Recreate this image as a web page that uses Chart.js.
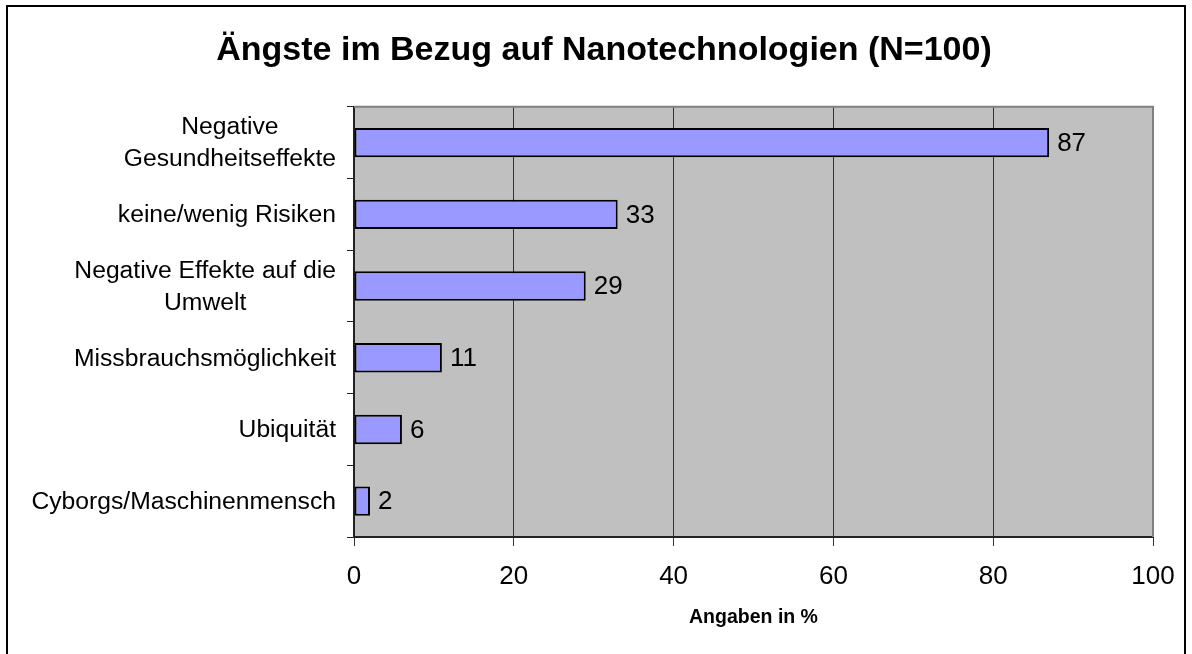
<!DOCTYPE html>
<html>
<head>
<meta charset="utf-8">
<script src="https://cdn.jsdelivr.net/npm/chart.js@4.4.0/dist/chart.umd.min.js"></script>
<style>
  html, body { margin: 0; padding: 0; background: #fff; }
  #wrap { width: 1192px; height: 654px; position: relative; }
</style>
</head>
<body>
<div id="wrap"><canvas id="c" width="1192" height="654"></canvas></div>
<script>
const categories = [
  ["Negative", "Gesundheitseffekte"],
  ["keine/wenig Risiken"],
  ["Negative Effekte auf die", "Umwelt"],
  ["Missbrauchsmöglichkeit"],
  ["Ubiquität"],
  ["Cyborgs/Maschinenmensch"]
];
const values = [87, 33, 29, 11, 6, 2];
const xTicks = [0, 20, 40, 60, 80, 100];
const titleText = "Ängste im Bezug auf Nanotechnologien (N=100)";
const xTitle = "Angaben in %";

const FONT = "'Liberation Sans', Arial, sans-serif";

const framePlugin = {
  id: 'frame',
  beforeDraw(chart) {
    const ctx = chart.ctx, a = chart.chartArea;
    ctx.save();
    ctx.fillStyle = '#fff';
    ctx.fillRect(0, 0, chart.width, chart.height);
    ctx.strokeStyle = '#000';
    ctx.lineWidth = 2;
    ctx.strokeRect(7, 6, 1178, 680);
    ctx.fillStyle = '#C0C0C0';
    ctx.fillRect(a.left, a.top, a.right - a.left, a.bottom - a.top);
    ctx.restore();
  },
  beforeDatasetsDraw(chart) {
    const ctx = chart.ctx, a = chart.chartArea;
    ctx.save();
    ctx.strokeStyle = '#808080';
    ctx.lineWidth = 2;
    ctx.beginPath();
    ctx.moveTo(a.left, a.top);
    ctx.lineTo(a.right, a.top);
    ctx.lineTo(a.right, a.bottom);
    ctx.stroke();
    ctx.restore();
  },
  afterDatasetsDraw(chart) {
    const ctx = chart.ctx;
    const yScale = chart.scales.y;
    const meta = chart.getDatasetMeta(0);
    ctx.save();
    // value labels
    ctx.font = '26px ' + FONT;
    ctx.fillStyle = '#000';
    ctx.textAlign = 'left';
    ctx.textBaseline = 'middle';
    meta.data.forEach((bar, i) => {
      ctx.fillText(String(values[i]), bar.x + 8, bar.y + 1);
    });
    // category labels: block right-aligned, lines centered within block
    ctx.font = '24.7px ' + FONT;
    ctx.textAlign = 'center';
    const rightEdge = yScale.right - 18;
    const lh = 32;
    categories.forEach((lines, i) => {
      const cy = yScale.getPixelForTick(i);
      const maxW = Math.max(...lines.map(l => ctx.measureText(l).width));
      const cx = rightEdge - maxW / 2;
      const startY = cy - (lines.length - 1) * lh / 2;
      lines.forEach((l, j) => ctx.fillText(l, cx, startY + j * lh + 1));
    });
    ctx.restore();
  }
};

new Chart(document.getElementById('c'), {
  type: 'bar',
  data: {
    labels: categories,
    datasets: [{
      data: values,
      backgroundColor: '#9999FF',
      borderColor: '#000',
      borderWidth: 2,
      borderSkipped: false,
      barPercentage: 0.41,
      categoryPercentage: 1.0
    }]
  },
  options: {
    indexAxis: 'y',
    responsive: false,
    animation: false,
    devicePixelRatio: 1,
    layout: { padding: { left: 55, right: 39, top: 0, bottom: 0 } },
    plugins: {
      legend: { display: false },
      tooltip: { enabled: false },
      title: {
        display: true,
        text: titleText,
        color: '#000',
        font: { family: FONT, size: 34, weight: 'bold' },
        padding: { top: 30, bottom: 36 }
      }
    },
    scales: {
      x: {
        type: 'linear',
        min: 0,
        max: 100,
        afterBuildTicks(scale) { scale.ticks = xTicks.map(v => ({ value: v })); },
        afterFit(scale) { scale.height = 117; },
        grid: {
          color: '#333',
          lineWidth: 1,
          drawTicks: true,
          tickLength: 9,
          tickColor: '#333'
        },
        border: { display: true, color: '#222', width: 2 },
        ticks: {
          color: '#000',
          font: { family: FONT, size: 26 },
          padding: 15,
          maxRotation: 0
        },
        title: {
          display: true,
          text: xTitle,
          color: '#000',
          font: { family: FONT, size: 19.5, weight: 'bold' },
          padding: { top: 0, bottom: 25 }
        }
      },
      y: {
        type: 'category',
        afterFit(scale) { scale.width = 299; },
        grid: {
          offset: true,
          drawOnChartArea: false,
          drawTicks: true,
          tickLength: 7,
          tickColor: '#222'
        },
        border: { display: true, color: '#222', width: 2 },
        ticks: { display: false }
      }
    }
  },
  plugins: [framePlugin]
});
</script>
</body>
</html>
